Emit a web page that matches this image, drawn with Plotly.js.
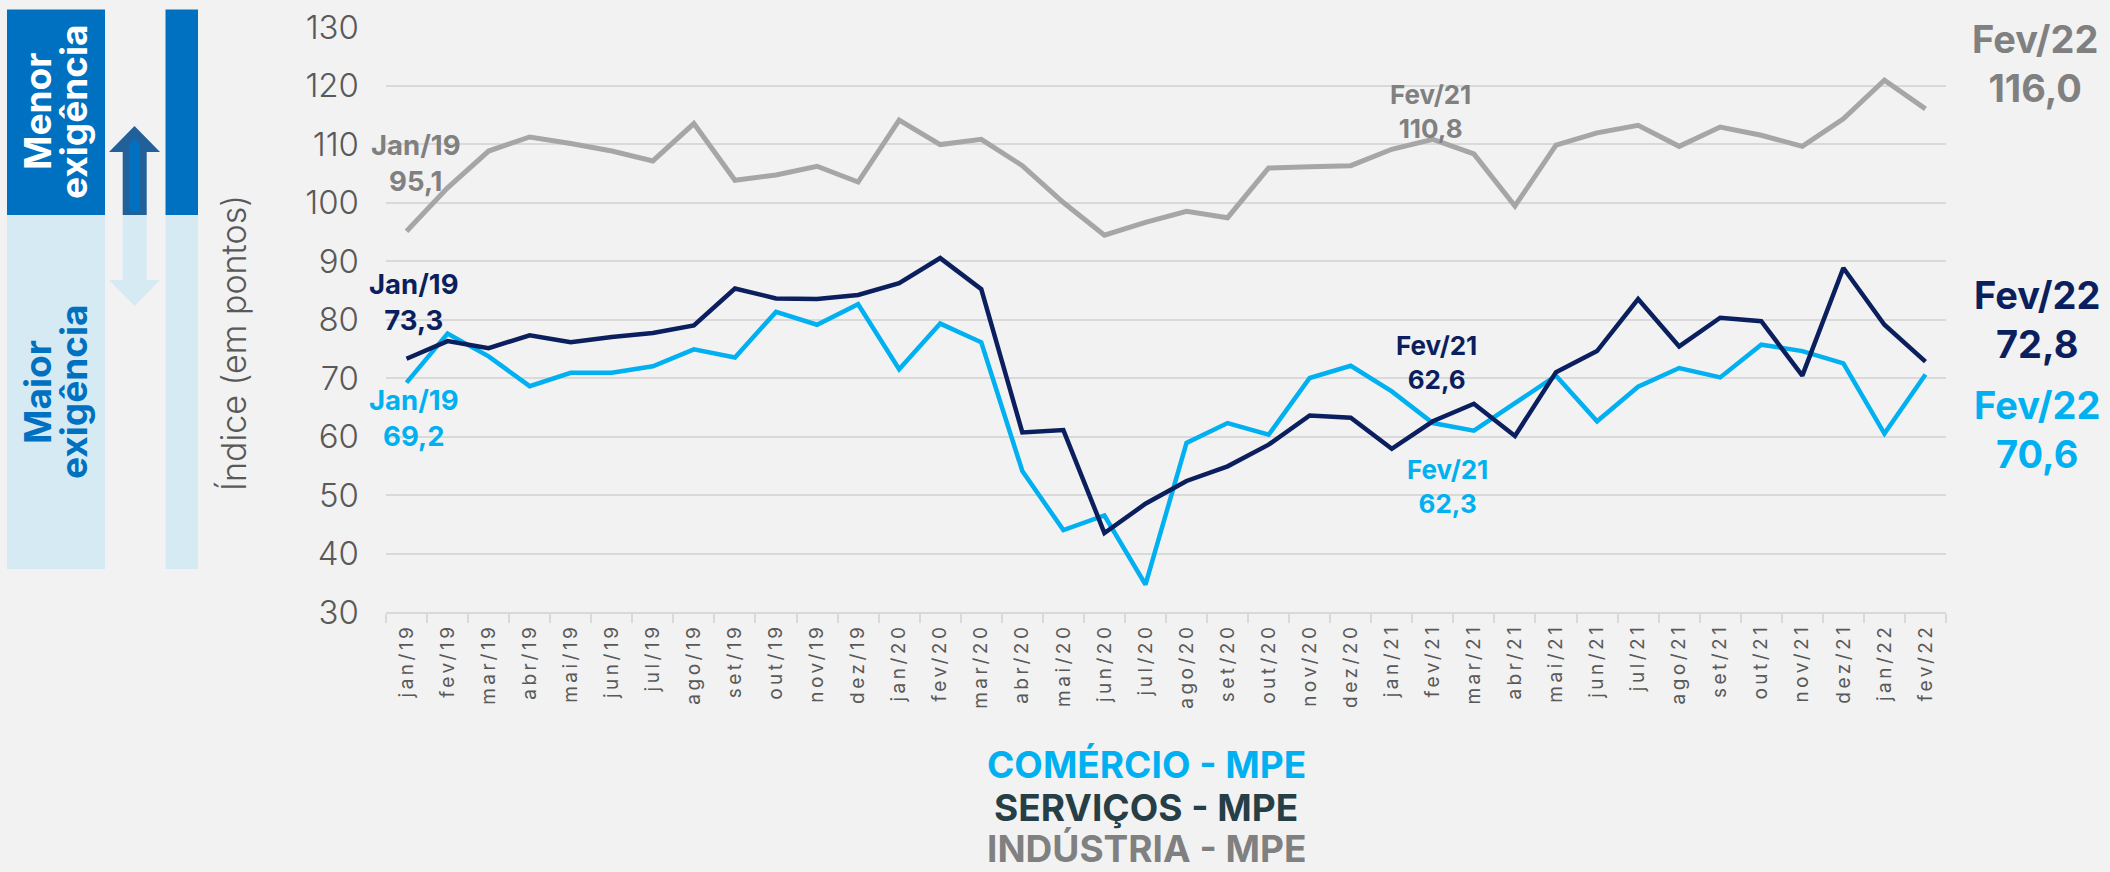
<!DOCTYPE html>
<html><head><meta charset="utf-8">
<script src="https://cdn.plot.ly/plotly-3.0.1.min.js"></script>
<style>
html,body{margin:0;padding:0;background:#F2F2F2;}
.xtick text{letter-spacing:3.5px;}
</style></head><body>
<div id="chart" style="width:2110px;height:872px;"></div>
<script>
const months = ['jan/19','fev/19','mar/19','abr/19','mai/19','jun/19','jul/19','ago/19','set/19','out/19','nov/19','dez/19',
  'jan/20','fev/20','mar/20','abr/20','mai/20','jun/20','jul/20','ago/20','set/20','out/20','nov/20','dez/20',
  'jan/21','fev/21','mar/21','abr/21','mai/21','jun/21','jul/21','ago/21','set/21','out/21','nov/21','dez/21',
  'jan/22','fev/22'];
const industria = [95.1,102.5,108.8,111.2,110.1,108.8,107.1,113.5,103.8,104.7,106.2,103.5,114.1,109.9,110.8,106.3,100.0,94.4,96.6,98.5,97.4,105.9,106.1,106.3,109.1,110.8,108.3,99.4,109.8,111.9,113.2,109.6,112.9,111.5,109.6,114.3,120.9,116.0];
const servicos = [73.3,76.3,75.1,77.3,76.1,77.0,77.7,79.0,85.3,83.6,83.5,84.2,86.2,90.5,85.2,60.7,61.1,43.5,48.5,52.4,54.9,58.6,63.6,63.2,57.9,62.6,65.6,60.1,71.0,74.6,83.5,75.4,80.3,79.7,70.4,88.8,79.1,72.8];
const comercio = [69.2,77.6,73.7,68.6,70.9,70.9,72.0,74.9,73.5,81.3,79.1,82.6,71.5,79.3,76.1,54.1,44.0,46.5,34.7,58.9,62.3,60.3,70.0,72.1,67.7,62.3,61.0,65.8,70.4,62.6,68.5,71.7,70.1,75.7,74.6,72.5,60.5,70.6];
const seriesNames = ['COMÉRCIO - MPE','SERVIÇOS - MPE','INDÚSTRIA - MPE'];
const yTitle = 'Índice (em pontos)';
const sideTop = ['Menor','exigência'];
const sideBottom = ['Maior','exigência'];

const FONT = 'Inter, "Open Sans", sans-serif';
const C_BLUE = '#00B0F0', C_NAVY = '#0B1F5E', C_GRAY = '#A6A6A6', C_GRAYT = '#808080', C_SLATE = '#263E46';

const L = 386, R = 1946, T = 27, B = 612;
const px = p => (p - L) / (R - L);
const py = p => (B - p) / (B - T);

const traces = [
  {x: months, y: industria, type: 'scatter', mode: 'lines', line: {color: C_GRAY, width: 5}, name: seriesNames[2]},
  {x: months, y: comercio, type: 'scatter', mode: 'lines', line: {color: C_BLUE, width: 4.5}, name: seriesNames[0]},
  {x: months, y: servicos, type: 'scatter', mode: 'lines', line: {color: C_NAVY, width: 4.5}, name: seriesNames[1]}
];

function cap(s){ return s.charAt(0).toUpperCase() + s.slice(1); }
function fmt(v){ return v.toFixed(1).replace('.', ','); }
function lab(series, i, color, size, xs, ys){
  return {x: months[i], y: series[i], xref: 'x', yref: 'y', showarrow: false,
    text: cap(months[i]) + '<br>' + fmt(series[i]), xshift: xs, yshift: ys,
    xanchor: 'center', yanchor: 'middle',
    font: {family: FONT, size: size, color: color, weight: 700}};
}
function ptxt(x, y, text, size, color, weight, angle){
  return {xref: 'paper', yref: 'paper', x: px(x), y: py(y), text: text, textangle: angle || 0, showarrow: false,
    xanchor: 'center', yanchor: 'middle', font: {family: FONT, size: size, color: color, weight: weight}};
}
const last = months.length - 1;
const annotations = [
  lab(industria, 0, C_GRAYT, 27.5, 9, 68),
  lab(servicos, 0, C_NAVY, 27.5, 7, 57),
  lab(comercio, 0, C_BLUE, 27.5, 7, -35),
  lab(industria, 25, C_GRAYT, 26, -2, 28),
  lab(servicos, 25, C_NAVY, 26, 4, 59),
  lab(comercio, 25, C_BLUE, 26, 15, -63),
  lab(industria, last, C_GRAYT, 38, 110, 45),
  lab(servicos, last, C_NAVY, 38, 112, 42),
  lab(comercio, last, C_BLUE, 38, 112, -55),
  ptxt(233, 343, yTitle, 34, '#595959', 300, -90),
  ptxt(37, 112, sideTop[0], 37, '#FFFFFF', 700, -90),
  ptxt(73, 112, sideTop[1], 37, '#FFFFFF', 700, -90),
  ptxt(37, 392, sideBottom[0], 37, '#0070C0', 700, -90),
  ptxt(73, 392, sideBottom[1], 37, '#0070C0', 700, -90),
  ptxt(1146, 764, seriesNames[0], 37, C_BLUE, 700),
  ptxt(1146, 807, seriesNames[1], 37, C_SLATE, 700),
  ptxt(1146, 849, seriesNames[2], 37, C_GRAYT, 700)
];

function rect(x0, y0, x1, y1, color){
  return {type: 'rect', xref: 'paper', yref: 'paper', x0: px(x0), x1: px(x1), y0: py(y1), y1: py(y0),
    fillcolor: color, line: {width: 0}, layer: 'below'};
}
function poly(pts, color){
  let d = 'M' + pts.map(p => px(p[0]) + ',' + py(p[1])).join(' L') + ' Z';
  return {type: 'path', xref: 'paper', yref: 'paper', path: d, fillcolor: color, line: {width: 0}, layer: 'above'};
}
const DARK = '#0070C0', LIGHT = '#D6EAF3';
const shapes = [
  rect(7, 9.5, 105, 215, DARK), rect(7, 215, 105, 569, LIGHT),
  rect(165.5, 9.5, 198, 215, DARK), rect(165.5, 215, 198, 569, LIGHT),
  poly([[134.5,126],[160,152],[146.7,152],[146.7,215],[122.7,215],[122.7,152],[109,152]], '#22609A'),
  poly([[134.5,138],[140,145],[140,212],[129,212],[129,145]], '#0070C0'),
  poly([[122.7,215],[146.7,215],[146.7,280],[160,280],[134.5,306],[109,280],[122.7,280]], LIGHT)
];

const layout = {
  width: 2110, height: 872,
  margin: {l: L, r: 2110 - R, t: T, b: 872 - B},
  paper_bgcolor: '#F2F2F2', plot_bgcolor: '#F2F2F2',
  showlegend: false,
  font: {family: FONT},
  xaxis: {type: 'category', range: [-0.5, months.length - 0.5], showgrid: false, zeroline: false,
    showline: true, linecolor: '#D9D9D9', linewidth: 2,
    ticks: 'outside', tickson: 'boundaries', ticklen: 9, tickwidth: 2, tickcolor: '#D9D9D9',
    tickangle: -90, tickfont: {family: FONT, size: 19, color: '#595959'}, ticklabelstandoff: 2},
  yaxis: {range: [30, 130], dtick: 10, tick0: 30, showgrid: true, gridcolor: '#D9D9D9', gridwidth: 2,
    zeroline: false, showline: false, ticks: '', ticklabelstandoff: 26,
    tickfont: {family: FONT, size: 33, color: '#595959', weight: 300}},
  annotations: annotations,
  shapes: shapes
};
Plotly.newPlot('chart', traces, layout, {staticPlot: true, displayModeBar: false});
</script>
</body></html>
